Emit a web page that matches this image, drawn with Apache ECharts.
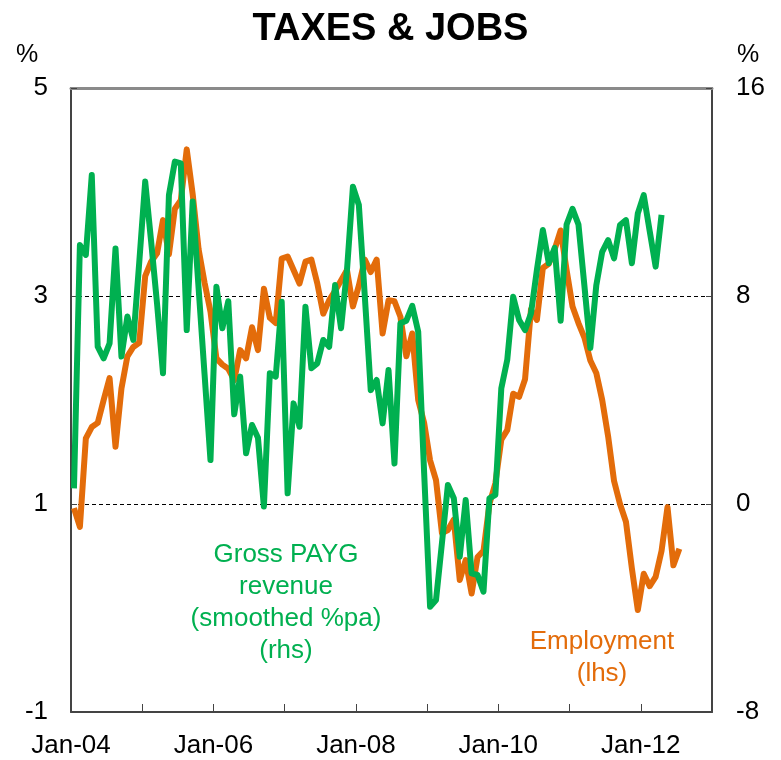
<!DOCTYPE html>
<html>
<head>
<meta charset="utf-8">
<script src="https://cdn.jsdelivr.net/npm/echarts@6/dist/echarts.min.js"></script>
<style>
  html, body { margin: 0; padding: 0; background: #ffffff; }
  #chart { width: 781px; height: 760px; }
</style>
</head>
<body>
<div id="chart"></div>
<script>
// Monthly series starting January 2004
const firstMonth = '2004-01';

// Year ticks on the horizontal axis (labels on every second year)
const yearTickLabels = ['Jan-04', '', 'Jan-06', '', 'Jan-08', '', 'Jan-10', '', 'Jan-12', ''];

// Left axis (%), employment growth
const lhsTicks = [-1, 1, 3, 5];
// Right axis (%), gross PAYG revenue growth
const rhsTicks = [-8, 0, 8, 16];

// Employment, % (lhs), Jan-04 .. Jul-12
const employment = [
  0.96, 0.78, 1.63, 1.74, 1.78, 2.00, 2.21, 1.55, 2.11, 2.42, 2.51, 2.55,
  3.19, 3.33, 3.41, 3.73, 3.40, 3.84, 3.92, 4.41, 3.98, 3.45, 3.13, 2.85,
  2.40, 2.34, 2.30, 2.19, 2.48, 2.40, 2.70, 2.48, 3.07, 2.79, 2.74, 3.36,
  3.38, 3.25, 3.12, 3.33, 3.35, 3.12, 2.83, 2.96, 3.05, 3.15, 3.25, 2.90,
  3.10, 3.35, 3.23, 3.35, 2.64, 2.96, 2.95, 2.80, 2.42, 2.64, 2.00, 1.78,
  1.42, 1.23, 0.72, 0.75, 0.85, 0.27, 0.46, 0.14, 0.49, 0.55, 1.00, 1.20,
  1.62, 1.71, 2.06, 2.03, 2.20, 2.87, 2.77, 3.27, 3.31, 3.45, 3.63, 3.25,
  2.90, 2.74, 2.60, 2.38, 2.26, 2.00, 1.65, 1.22, 1.00, 0.83, 0.38, -0.02,
  0.33, 0.21, 0.30, 0.55, 0.97, 0.41, 0.57
];

// Gross PAYG revenue, smoothed % pa (rhs), Jan-04 .. Apr-12
const paygRevenue = [
  0.60, 9.96, 9.58, 12.65, 6.05, 5.60, 6.18, 9.83, 5.67, 7.21, 6.31, 9.30,
  12.40, 10.10, 7.70, 5.03, 11.88, 13.17, 13.10, 6.69, 11.63, 8.30, 5.00, 1.69,
  8.36, 6.76, 7.80, 3.45, 4.90, 1.95, 3.04, 2.55, -0.10, 5.03, 4.90, 7.78,
  0.41, 3.87, 2.97, 7.59, 5.22, 5.41, 6.31, 6.05, 8.42, 6.76, 9.00, 12.20,
  11.50, 8.00, 4.38, 4.77, 3.10, 5.15, 1.56, 6.95, 7.05, 7.62, 6.63, 1.20,
  -3.95, -3.69, -1.50, 0.73, 0.22, -2.03, 0.15, -2.67, -2.73, -3.37, 0.22, 0.35,
  4.45, 5.54, 7.97, 7.08, 6.69, 7.33, 9.00, 10.54, 9.26, 9.85, 7.05, 10.75,
  11.35, 10.75, 8.40, 6.00, 8.40, 9.70, 10.15, 9.45, 10.73, 10.92, 9.26, 11.18,
  11.88, 10.50, 9.13, 11.12
];

const ORANGE = '#E36C0A';
const GREEN = '#00B050';
const FONT = '"Liberation Sans", Arial, sans-serif';

// Each monthly value is placed mid-month, measured in years since Jan-04
const toPoints = (values) => values.map((v, i) => [(i + 0.5) / 12, v]);

const chart = echarts.init(document.getElementById('chart'), null, { renderer: 'canvas' });

chart.setOption({
  animation: false,
  backgroundColor: '#ffffff',
  title: {
    text: 'TAXES & JOBS',
    left: 'center',
    top: 6,
    textStyle: { fontFamily: FONT, fontSize: 38, fontWeight: 'bold', color: '#000000' }
  },
  grid: { left: 71, right: 69, top: 88, bottom: 48 },
  xAxis: [
    {
      type: 'value',
      min: 0,
      max: yearTickLabels.length - 1,
      interval: 1,
      axisLine: { show: true, onZero: false, lineStyle: { color: '#444444', width: 2 } },
      axisTick: { show: true, inside: true, length: 8, lineStyle: { color: '#444444', width: 1 } },
      axisLabel: {
        margin: 21,
        fontFamily: FONT,
        fontSize: 26,
        color: '#000000',
        formatter: (v) => yearTickLabels[Math.round(v)] || ''
      },
      splitLine: { show: false }
    },
    {
      type: 'value',
      position: 'top',
      min: 0,
      max: yearTickLabels.length - 1,
      axisLine: { show: true, onZero: false, lineStyle: { color: '#8a8a8a', width: 3 } },
      axisTick: { show: false },
      axisLabel: { show: false },
      splitLine: { show: false }
    }
  ],
  yAxis: [
    {
      type: 'value',
      position: 'left',
      min: lhsTicks[0],
      max: lhsTicks[lhsTicks.length - 1],
      interval: lhsTicks[1] - lhsTicks[0],
      axisLine: { show: true, onZero: false, lineStyle: { color: '#444444', width: 2 } },
      axisTick: { show: true, inside: true, length: 6, lineStyle: { color: '#444444' } },
      axisLabel: { margin: 23, fontFamily: FONT, fontSize: 26, color: '#000000' },
      splitLine: { show: true, lineStyle: { color: '#000000', width: 1, type: [4, 3] } }
    },
    {
      type: 'value',
      position: 'right',
      min: rhsTicks[0],
      max: rhsTicks[rhsTicks.length - 1],
      interval: rhsTicks[1] - rhsTicks[0],
      axisLine: { show: true, onZero: false, lineStyle: { color: '#444444', width: 2 } },
      axisTick: { show: true, inside: true, length: 6, lineStyle: { color: '#444444' } },
      axisLabel: { margin: 24, fontFamily: FONT, fontSize: 26, color: '#000000' },
      splitLine: { show: false }
    }
  ],
  series: [
    {
      name: 'Employment (lhs)',
      type: 'line',
      xAxisIndex: 0,
      yAxisIndex: 0,
      data: toPoints(employment),
      showSymbol: false,
      lineStyle: { color: ORANGE, width: 6, join: 'round' },
      itemStyle: { color: ORANGE },
      z: 3
    },
    {
      name: 'Gross PAYG revenue (rhs)',
      type: 'line',
      xAxisIndex: 0,
      yAxisIndex: 1,
      data: toPoints(paygRevenue),
      showSymbol: false,
      lineStyle: { color: GREEN, width: 6, join: 'round' },
      itemStyle: { color: GREEN },
      z: 4
    }
  ],
  graphic: [
    {
      type: 'text', x: 27, y: 55,
      style: { text: '%', font: '25px ' + FONT, fill: '#000000', align: 'center', verticalAlign: 'middle' }
    },
    {
      type: 'text', x: 748, y: 55,
      style: { text: '%', font: '25px ' + FONT, fill: '#000000', align: 'center', verticalAlign: 'middle' }
    },
    {
      type: 'text', x: 286, y: 539,
      style: {
        text: 'Gross PAYG\nrevenue\n(smoothed %pa)\n(rhs)',
        font: '26px ' + FONT,
        lineHeight: 32,
        fill: GREEN,
        align: 'center',
        verticalAlign: 'top'
      }
    },
    {
      type: 'text', x: 602, y: 626,
      style: {
        text: 'Employment\n(lhs)',
        font: '26px ' + FONT,
        lineHeight: 32,
        fill: ORANGE,
        align: 'center',
        verticalAlign: 'top'
      }
    }
  ]
});
</script>
</body>
</html>
